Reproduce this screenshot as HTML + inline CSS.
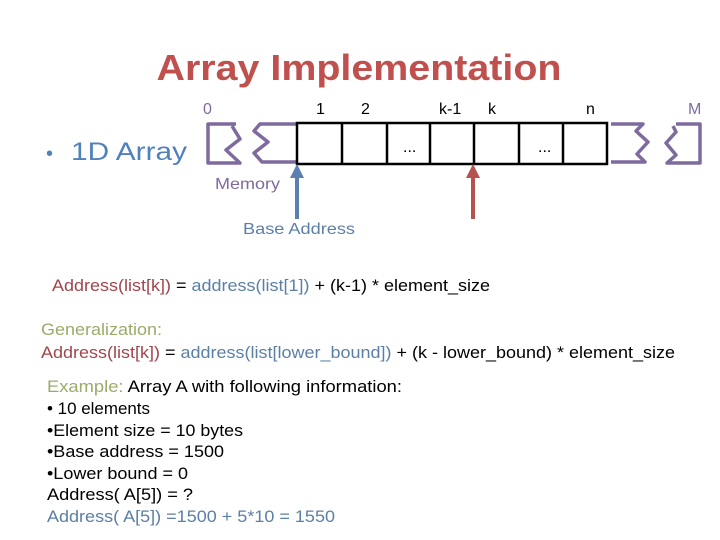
<!DOCTYPE html>
<html><head><meta charset="utf-8"><style>
html,body{margin:0;padding:0;background:#fff;}
svg{display:block;font-family:"Liberation Sans",Arial,sans-serif;}
</style></head><body>
<svg width="720" height="540" viewBox="0 0 720 540">
<text x="359" y="80" text-anchor="middle" font-size="36" font-weight="bold" fill="#c0504d" textLength="405" lengthAdjust="spacingAndGlyphs">Array Implementation</text>
<text x="46" y="160" font-size="20" fill="#4f81bd">•</text>
<text x="71" y="160" font-size="25" fill="#4f81bd" textLength="116" lengthAdjust="spacingAndGlyphs">1D Array</text>
<g font-size="16" fill="#000">
<text x="203" y="114" fill="#7f6a9e">0</text>
<text x="316" y="114">1</text>
<text x="361" y="114">2</text>
<text x="439" y="114">k-1</text>
<text x="488" y="114">k</text>
<text x="586" y="114">n</text>
<text x="688" y="114" fill="#7f6a9e">M</text>
<text x="403" y="152">...</text>
<text x="538" y="152">...</text>
</g>
<g stroke="#7f6a9e" stroke-width="3.5" fill="none" stroke-linejoin="round">
<path d="M236,124 L208,124 L208,163 L240,163 L226,150 L240,139 L232,126"/>
<path d="M297,124 L260,124 L254,131 L268,142 L254,153 L262,162 L297,162"/>
<path d="M611,124 L643,124 L636,131 L648,142 L637,154 L645,162 L611,162"/>
<path d="M676,124 L700,124 L700,163 L667,163 L676,155 L666,143 L676,132 L673,126"/>
</g>
<g stroke="#000" stroke-width="2.5" fill="none">
<rect x="297" y="123" width="310" height="41"/>
<line x1="342" y1="123" x2="342" y2="164"/>
<line x1="387" y1="123" x2="387" y2="164"/>
<line x1="430" y1="123" x2="430" y2="164"/>
<line x1="474" y1="123" x2="474" y2="164"/>
<line x1="519" y1="123" x2="519" y2="164"/>
<line x1="563" y1="123" x2="563" y2="164"/>
</g>
<line x1="297" y1="176" x2="297" y2="219" stroke="#5b7fb0" stroke-width="4"/>
<polygon points="290,178 297,164 304,178" fill="#5b7fb0"/>
<line x1="473" y1="176" x2="473" y2="219" stroke="#b5524f" stroke-width="4"/>
<polygon points="466,178 473,164 480,178" fill="#b5524f"/>
<text x="215" y="189" font-size="16" fill="#7f6a9e" textLength="65" lengthAdjust="spacingAndGlyphs">Memory</text>
<text x="243" y="234" font-size="16" fill="#5b7fa6" textLength="112" lengthAdjust="spacingAndGlyphs">Base Address</text>
<g font-size="17">
<text x="52" y="291" textLength="438" lengthAdjust="spacingAndGlyphs"><tspan fill="#a0464b">Address(list[k])</tspan><tspan fill="#000"> = </tspan><tspan fill="#5b7fa6">address(list[1])</tspan><tspan fill="#000"> + (k-1) * element_size</tspan></text>
<text x="41" y="335" fill="#9aab6a" textLength="121" lengthAdjust="spacingAndGlyphs">Generalization:</text>
<text x="41" y="358" textLength="634" lengthAdjust="spacingAndGlyphs"><tspan fill="#a0464b">Address(list[k])</tspan><tspan fill="#000"> = </tspan><tspan fill="#5b7fa6">address(list[lower_bound])</tspan><tspan fill="#000"> + (k - lower_bound) * element_size</tspan></text>
<text x="47" y="392" textLength="355" lengthAdjust="spacingAndGlyphs"><tspan fill="#9aab6a">Example:</tspan><tspan fill="#000"> Array  A with following information:</tspan></text>
<text x="47" y="414" fill="#000" textLength="103" lengthAdjust="spacingAndGlyphs">• 10 elements</text>
<text x="47" y="436" fill="#000" textLength="196" lengthAdjust="spacingAndGlyphs">•Element size = 10 bytes</text>
<text x="47" y="457" fill="#000" textLength="177" lengthAdjust="spacingAndGlyphs">•Base address = 1500</text>
<text x="47" y="479" fill="#000" textLength="141" lengthAdjust="spacingAndGlyphs">•Lower bound = 0</text>
<text x="47" y="500" fill="#000" textLength="146" lengthAdjust="spacingAndGlyphs">Address( A[5]) = ?</text>
<text x="47" y="522" fill="#5b7fa6" textLength="288" lengthAdjust="spacingAndGlyphs">Address( A[5]) =1500 + 5*10 = 1550</text>
</g>
</svg>
</body></html>
